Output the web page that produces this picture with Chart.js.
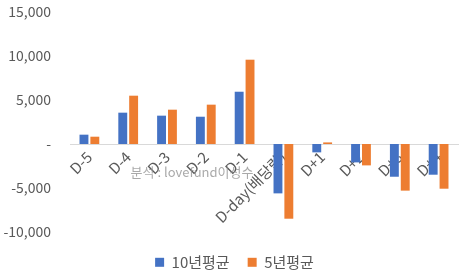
<!DOCTYPE html>
<html>
<head>
<meta charset="utf-8">
<script src="https://cdn.jsdelivr.net/npm/chart.js@4"></script>
<style>
  html, body { margin: 0; padding: 0; background: #fff; }
  #wrap { width: 469px; height: 272px; }
</style>
</head>
<body>
<div id="wrap"><canvas id="chart"></canvas></div>
<script>
const LABELS = ["D-5", "D-4", "D-3", "D-2", "D-1", "D-day(배당락)", "D+1", "D+2", "D+3", "D+4"];
const AVG_10Y = [1060, 3560, 3220, 3100, 5940, -5610, -950, -2090, -3720, -3490];
const AVG_5Y = [830, 5490, 3900, 4470, 9580, -8490, 180, -2430, -5300, -5080];
const SERIES_NAMES = ["10년평균", "5년평균"];
const WATERMARK = "분석 : lovefund이성수";

const FONT = "'Noto Sans CJK KR', 'Noto Sans', sans-serif";
const TICK = "#595959";

// grey source note drawn across the plot, like the original
const watermark = {
  id: "watermark",
  afterDraw(chart) {
    const { ctx } = chart;
    ctx.save();
    ctx.font = "13px " + FONT;
    ctx.fillStyle = "rgba(140,140,140,0.75)";
    ctx.textAlign = "center";
    ctx.textBaseline = "middle";
    ctx.fillText(WATERMARK, 192, 172);
    ctx.restore();
  },
};

new Chart(document.getElementById("chart"), {
  type: "bar",
  data: {
    labels: LABELS,
    datasets: [
      { label: SERIES_NAMES[0], data: AVG_10Y, backgroundColor: "#4472C4" },
      { label: SERIES_NAMES[1], data: AVG_5Y, backgroundColor: "#ED7D31" },
    ],
  },
  options: {
    responsive: true, maintainAspectRatio: false, animation: false,
    categoryPercentage: 0.56, barPercentage: 0.82,
    layout: { padding: { top: 12, right: 0, bottom: 0, left: 0 } },
    scales: {
      x: {
        position: { y: 0 },
        grid: { display: false, drawTicks: false },
        border: { display: true, color: "#d9d9d9", width: 1 },
        ticks: {
          color: TICK, font: { family: FONT, size: 15 },
          autoSkip: false, maxRotation: 45, minRotation: 45, padding: 4,
        },
      },
      y: {
        min: -10000, max: 15000,
        // tick marks hidden, but their length keeps labels off the plot
        grid: { display: false, drawTicks: true, tickLength: 19 },
        border: { display: false },
        afterFit: (s) => { s.width = 70; },
        ticks: {
          stepSize: 5000, padding: 0,
          color: TICK, font: { family: FONT, size: 14 },
          callback: (v) => (v === 0 ? "-" : v.toLocaleString("en-US")),
        },
      },
      // empty strip on the right so the legend stays centred on the canvas
      gap: {
        position: "right",
        grid: { display: false, drawTicks: false },
        border: { display: false },
        ticks: { display: false },
        afterFit: (s) => { s.width = 11; },
      },
    },
    plugins: {
      tooltip: { enabled: false },
      legend: {
        position: "bottom",
        maxHeight: 40,
        title: { display: true, text: "", font: { size: 4, lineHeight: 1.2 }, padding: 0 },
        labels: {
          color: TICK, font: { family: FONT, size: 15 },
          boxWidth: 9, boxHeight: 9, padding: 18,
        },
      },
    },
  },
  plugins: [watermark],
});
</script>
</body>
</html>
